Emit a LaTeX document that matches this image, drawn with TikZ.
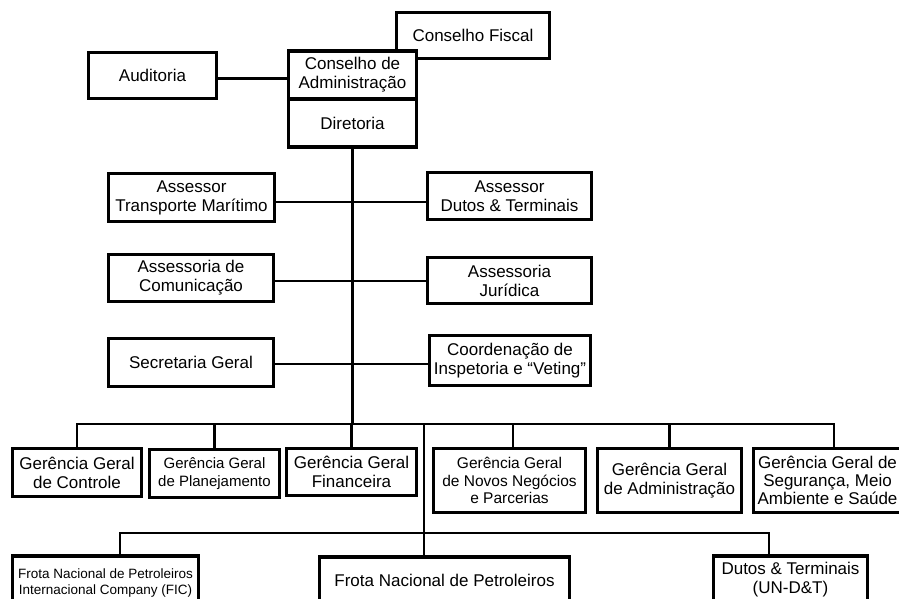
\documentclass[tikz,border=0pt]{standalone}
\usepackage{fontspec}
\setmainfont{Liberation Sans}

\begin{document}
\begin{tikzpicture}[x=1pt,y=-1pt,
    box/.style={rectangle,draw=black,fill=white,line width=3.2pt,align=center,inner sep=1pt,font=\fontsize{17}{19}\selectfont},
    conn/.style={draw=black,line width=2.5pt}]
    \path[use as bounding box,clip] (0,0) rectangle (899,599);
    \fill[white] (0,0) rectangle (899,599);
    \begin{scope}[every node/.style={box}]
        \node[minimum width=153pt,minimum height=46pt] (CF) at (473,35.5) {Conselho Fiscal};
        \node[minimum width=128pt,minimum height=48pt] (CA) at (352.5,75) {Conselho de\\Administração};
        \node[minimum width=128pt,minimum height=48pt] (DIR) at (352.5,123) {Diretoria};
        \node[minimum width=128pt,minimum height=46pt] (AUD) at (152.5,75.5) {Auditoria};
        \node[minimum width=166pt,minimum height=48pt] (ATM) at (191.5,197.5) {Assessor\\Transporte Marítimo};
        \node[minimum width=164pt,minimum height=47pt] (ADT) at (509.5,196) {Assessor\\Dutos \& Terminais};
        \node[minimum width=165pt,minimum height=47pt] (ACO) at (191,278) {Assessoria de\\Comunicação};
        \node[minimum width=164pt,minimum height=46pt] (AJU) at (509.5,280.5) {Assessoria\\Jurídica};
        \node[minimum width=165pt,minimum height=48pt] (SG) at (191,362.5) {Secretaria Geral};
        \node[minimum width=161pt,minimum height=50pt] (CIV) at (510,360.5) {Coordenação de\\Inspetoria e “Veting”};
        % gerencias
        \node[minimum width=129pt,minimum height=48pt] (G1) at (77,472.5) {Gerência Geral\\de Controle};
        \node[minimum width=130pt,minimum height=48pt,font=\fontsize{15}{17.5}\selectfont] (G2) at (214.5,473.5) {Gerência Geral\\de Planejamento};
        \node[minimum width=130pt,minimum height=47pt] (G3) at (351.5,472) {Gerência Geral\\Financeira};
        \node[minimum width=152pt,minimum height=64pt,font=\fontsize{15.5}{17.5}\selectfont] (G4) at (509.5,480.5) {Gerência Geral\\de Novos Negócios\\e Parcerias};
        \node[minimum width=144pt,minimum height=64pt] (G5) at (669.5,480.5) {Gerência Geral\\de Administração};
        \node[minimum width=148pt,minimum height=64pt,font=\fontsize{17}{18}\selectfont] (G6) at (827.5,480.5) {Gerência Geral de\\Segurança, Meio\\Ambiente e Saúde};
        % unidades
        \node[minimum width=186pt,minimum height=54pt,font=\fontsize{13.5}{16}\selectfont] (FIC) at (105.5,583) {Frota Nacional de Petroleiros\\Internacional Company (FIC)};
        \node[minimum width=250pt,minimum height=46pt] (FN) at (444.5,580) {Frota Nacional de Petroleiros};
        \node[minimum width=154pt,minimum height=48pt] (DT) at (790.5,580) {Dutos \& Terminais\\(UN-D\&T)};
    \end{scope}
    \coordinate (J1) at (352.5,424);
    \coordinate (J2) at (424,424);
    \coordinate (J3) at (424,533);
    \begin{scope}[every path/.style={conn}]
        \draw ([yshift=-3pt]AUD.east) -- ([yshift=-3pt]AUD.east -| CA.west);
        \draw (DIR.south) -- (DIR.south |- J1);
        \draw ([yshift=-4.5pt]ATM.east) -- ([yshift=-4.5pt]ATM.east -| ADT.west);
        \draw ([yshift=-3pt]ACO.east) -- ([yshift=-3pt]ACO.east -| AJU.west);
        \draw ([yshift=-1.5pt]SG.east) -- ([yshift=-1.5pt]SG.east -| CIV.west);
        \draw (G1.north) |- (J1) -| ([xshift=6.5pt]G6.north);
        \draw (G2.north) -- (G2.north |- J1);
        \draw (G3.north) -- (G3.north |- J1);
        \draw ([xshift=3.5pt]G4.north) -- ([xshift=3.5pt]G4.north |- J1);
        \draw (G5.north) -- (G5.north |- J1);
        \draw (J2) -- (J2 |- FN.north);
        \draw ([xshift=14.5pt]FIC.north) |- (J3) -| ([xshift=-21.5pt]DT.north);
    \end{scope}
\end{tikzpicture}
\end{document}
